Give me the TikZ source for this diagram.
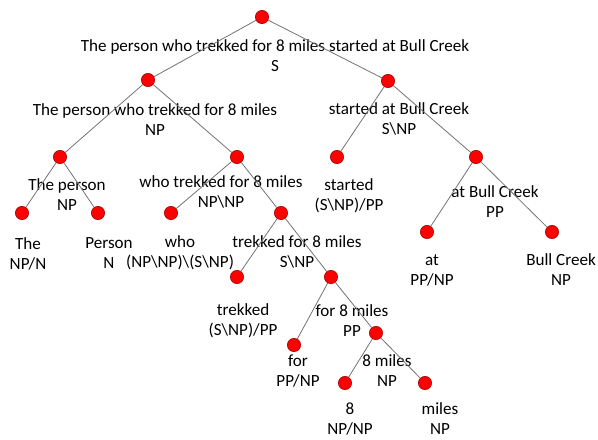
\documentclass[tikz,border=0pt]{standalone}
\usepackage{fontspec}
\setmainfont{Carlito}
\begin{document}
\begin{tikzpicture}[x=0.75pt,y=-0.75pt,
    dot/.style={circle,fill=red,draw=red!60!black,line width=0.4pt,inner sep=0pt,minimum size=10pt},
    lab/.style={align=center,inner sep=0pt,font=\fontsize{12.8}{15}\selectfont},
    edge/.style={draw=black!55,line width=0.6pt}]
    \useasboundingbox (0,0) rectangle (598,439);
    %S
    \node[dot] (s) at (262,17) {};
    \node[lab] (s-l) at (275,56) {The person who trekked for 8 miles started at Bull Creek\\S};
    %NP
    \node[dot] (np) at (148,80) {};
    \node[lab] (np-l) at (155,120) {The person who trekked for 8 miles\\NP};
    \node[dot] (thep) at (60,157) {};
    \node[lab] (thep-l) at (67,195) {The person\\NP};
    \node[dot] (the) at (22,213) {};
    \node[lab] (the-l) at (28,254) {The\\NP/N};
    \node[dot] (person) at (98,213) {};
    \node[lab] (person-l) at (109,253) {Person\\N};
    \node[dot] (whot) at (237,157) {};
    \node[lab] (whot-l) at (221,192) {who trekked for 8 miles\\NP\textbackslash NP};
    \node[dot] (who) at (171,213) {};
    \node[lab] (who-l) at (180,253) {who\\(NP\textbackslash NP)\textbackslash(S\textbackslash NP)};
    \node[dot] (trekf) at (281,213) {};
    \node[lab] (trekf-l) at (297,252) {trekked for 8 miles\\S\textbackslash NP};
    \node[dot] (trekked) at (237,277) {};
    \node[lab] (trekked-l) at (243,321) {trekked\\(S\textbackslash NP)/PP};
    \node[dot] (for8) at (331,277) {};
    \node[lab] (for8-l) at (352,321) {for 8 miles\\PP};
    \node[dot] (for) at (294,345) {};
    \node[lab] (for-l) at (298,371) {for\\PP/NP};
    \node[dot] (eightm) at (376,333) {};
    \node[lab] (eightm-l) at (387,371) {8 miles\\NP};
    \node[dot] (eight) at (345,383) {};
    \node[lab] (eight-l) at (350,419) {8\\NP/NP};
    \node[dot] (miles) at (425,383) {};
    \node[lab] (miles-l) at (440,419) {miles\\NP};
    %S\NP
    \node[dot] (snp) at (388,81) {};
    \node[lab] (snp-l) at (399,119) {started at Bull Creek\\S\textbackslash NP};
    \node[dot] (started) at (337,157) {};
    \node[lab] (started-l) at (349,196) {started\\(S\textbackslash NP)/PP};
    \node[dot] (atbc) at (476,157) {};
    \node[lab] (atbc-l) at (495,202) {at Bull Creek\\PP};
    \node[dot] (at) at (427,232) {};
    \node[lab] (at-l) at (432,270) {at\\PP/NP};
    \node[dot] (bc) at (552,232) {};
    \node[lab] (bc-l) at (561,270) {Bull Creek\\NP};
    %edges
    \path[edge] (s) -- (np) (s) -- (snp);
    \path[edge] (np) -- (thep) (np) -- (whot);
    \path[edge] (thep) -- (the) (thep) -- (person);
    \path[edge] (whot) -- (who) (whot) -- (trekf);
    \path[edge] (trekf) -- (trekked) (trekf) -- (for8);
    \path[edge] (for8) -- (for) (for8) -- (eightm);
    \path[edge] (eightm) -- (eight) (eightm) -- (miles);
    \path[edge] (snp) -- (started) (snp) -- (atbc);
    \path[edge] (atbc) -- (at) (atbc) -- (bc);
\end{tikzpicture}
\end{document}
